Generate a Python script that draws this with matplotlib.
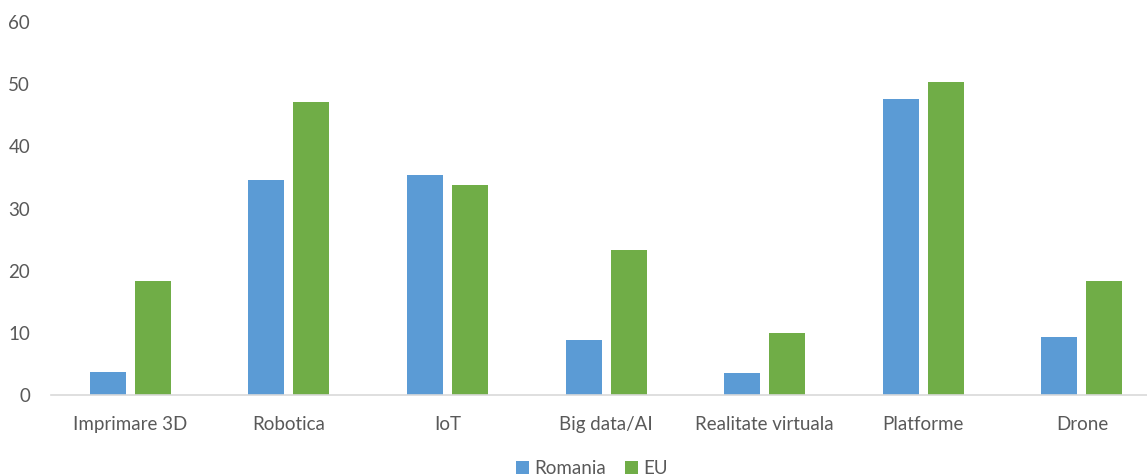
import numpy as np
import matplotlib.pyplot as plt

categories = ['Imprimare 3D', 'Robotica', 'IoT', 'Big data/AI',
              'Realitate virtuala', 'Platforme', 'Drone']
romania = [3.7, 34.6, 35.4, 8.8, 3.5, 47.6, 9.3]
eu = [18.3, 47.1, 33.8, 23.3, 10.0, 50.3, 18.3]

plt.rcParams['font.family'] = ['Lato', 'DejaVu Sans']
txt = '#595959'

fig = plt.figure(figsize=(11.47, 4.75), dpi=100)
ax = fig.add_axes([0.0444, 0.168, 0.968, 0.786])

x = np.arange(len(categories))
w = 0.227
ax.bar(x - 0.142, romania, w, color='#5b9bd5', label='Romania')
ax.bar(x + 0.142, eu, w, color='#70ad47', label='EU')

ax.set_xlim(-0.5, len(categories) - 0.5)
ax.set_ylim(0, 60)
ax.set_yticks(range(0, 61, 10))
ax.set_xticks(x)
ax.set_xticklabels(categories)
ax.tick_params(length=0, labelsize=13.5, colors=txt)
ax.tick_params(axis='x', pad=15)
ax.tick_params(axis='y', pad=15)

for s in ['top', 'right', 'left']:
    ax.spines[s].set_visible(False)
ax.spines['bottom'].set_color('#d9d9d9')
ax.spines['bottom'].set_linewidth(1.2)

leg = fig.legend(loc='lower center', bbox_to_anchor=(0.516, -0.04), ncol=2,
                 frameon=False, fontsize=13.5, handlelength=0.7, handleheight=0.7,
                 columnspacing=1.0, handletextpad=0.3)
for t in leg.get_texts():
    t.set_color(txt)

fig.savefig('out.png', dpi=100)
